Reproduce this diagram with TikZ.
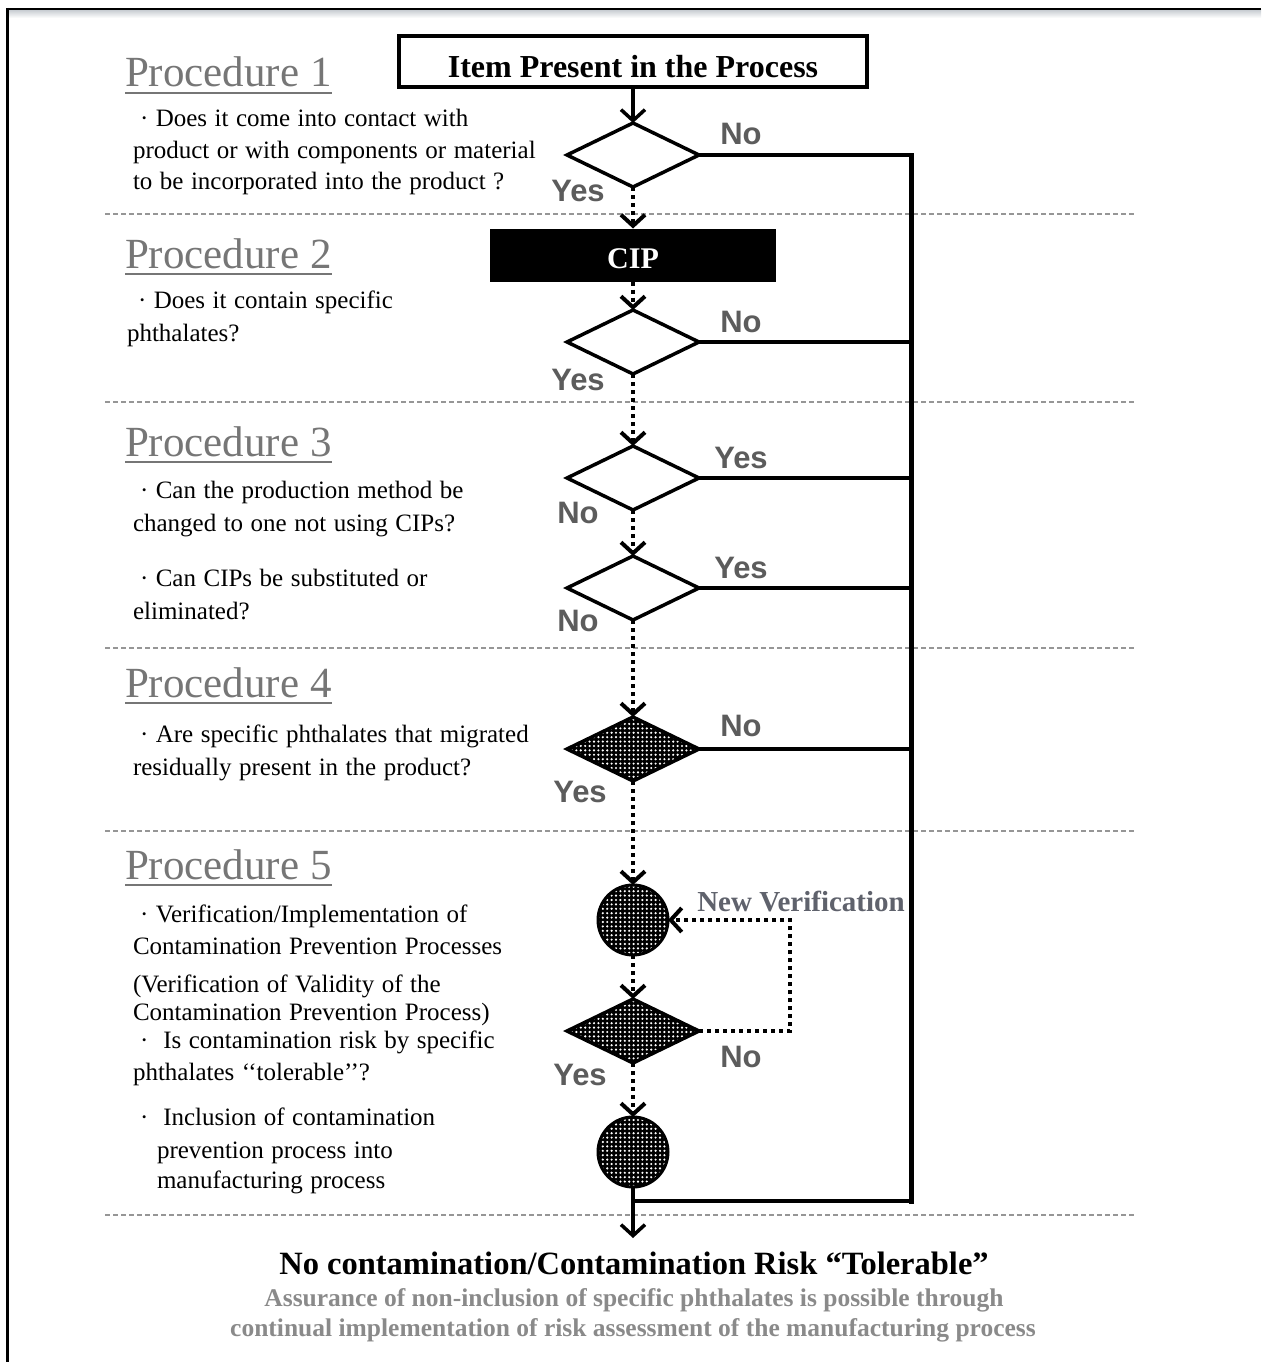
\documentclass[tikz,border=0pt]{standalone}
\usepackage{fontspec}
\setmainfont{Liberation Serif}
\newfontfamily\lsans{Liberation Sans}
\newfontfamily\bodyfont[WordSpace=1.2]{Liberation Serif}
\usetikzlibrary{shapes.geometric,arrows.meta,patterns.meta}
\definecolor{headgray}{RGB}{118,118,118}
\definecolor{yngray}{RGB}{92,92,92}
\definecolor{sepgray}{RGB}{150,150,150}
\definecolor{notegray}{RGB}{138,138,138}
\definecolor{nvgray}{RGB}{95,98,108}
\definecolor{bargray}{RGB}{200,205,210}
\begin{document}
\begin{tikzpicture}[x=1pt,y=-1pt,
  every node/.style={inner sep=0pt, outer sep=0pt},
  >={Straight Barb[length=11pt,width=24pt]},
  dec/.style={diamond, draw, line width=3.5pt, minimum width=132pt, minimum height=64pt},
  decfill/.style={dec, preaction={fill=black}, pattern={Dots[radius=1.2pt,distance=4.4pt]}, pattern color=white},
  ptfill/.style={circle, draw, line width=3pt, minimum size=70pt, preaction={fill=black}, pattern={Dots[radius=1.2pt,distance=4.4pt]}, pattern color=white},
  solidcon/.style={line width=3.5pt},
  dotcon/.style={line width=4pt, dash pattern=on 4pt off 4pt},
  sep/.style={sepgray, line width=1.5pt, dash pattern=on 5pt off 3pt},
  body/.style={anchor=base west, font=\bodyfont\fontsize{25}{29}\selectfont},
  head/.style={anchor=base west, text=headgray, font=\fontsize{43}{48}\selectfont},
  uline/.style={headgray, line width=2.5pt},
  yn/.style={text=yngray, font=\lsans\bfseries\fontsize{31}{36}\selectfont},
  note/.style={anchor=base, text=notegray, font=\bfseries\fontsize{25.5}{30}\selectfont}
]
\useasboundingbox (0,0) rectangle (1261,1362);
% frame
\shade[top color=bargray, bottom color=white] (7,10) rectangle (1261,18);
\draw[line width=2pt] (7,9) -- (1261,9);
\draw[line width=3pt] (7,8) -- (7,1362);

% separators
\foreach \yy in {214,402,648,831,1215} \draw[sep] (105,\yy) -- (1135,\yy);

% headings
\node[head] (h1) at (125,87) {Procedure 1};
\node[head] (h2) at (125,268) {Procedure 2};
\node[head] (h3) at (125,456) {Procedure 3};
\node[head] (h4) at (125,697) {Procedure 4};
\node[head] (h5) at (125,879) {Procedure 5};
\foreach \h in {h1,h2,h3,h4,h5}
  \draw[uline] ([yshift=-6pt]\h.base west) -- ([yshift=-6pt]\h.base east);

% body texts
\node[body] (t1a) at (140,127) {· Does it come into contact with};
\node[body] (t1b) at (133,158) {product or with components or material};
\node[body] (t1c) at (133,189) {to be incorporated into the product ?};
\node[body] (t2a) at (138,308) {· Does it contain specific};
\node[body] (t2b) at (127,341) {phthalates?};
\node[body] (t3a) at (140,498) {· Can the production method be};
\node[body] (t3b) at (133,531) {changed to one not using CIPs?};
\node[body] (t3c) at (140,586) {· Can CIPs be substituted or};
\node[body] (t3d) at (133,619) {eliminated?};
\node[body] (t4a) at (140,742) {· Are specific phthalates that migrated};
\node[body] (t4b) at (133,775) {residually present in the product?};
\node[body] (t5a) at (140,922) {· Verification/Implementation of};
\node[body] (t5b) at (133,954) {Contamination Prevention Processes};
\node[body] (t5c) at (133,992) {(Verification of Validity of the};
\node[body] (t5d) at (133,1020) {Contamination Prevention Process)};
\node[body] (t5e) at (140,1048) {·\ \ Is contamination risk by specific};
\node[body] (t5f) at (133,1080) {phthalates ‘‘tolerable’’?};
\node[body] (t5g) at (140,1125) {·\ \ Inclusion of contamination};
\node[body] (t5h) at (157,1158) {prevention process into};
\node[body] (t5i) at (157,1188) {manufacturing process};

% flow nodes
\node[draw, line width=4pt, minimum width=468pt, minimum height=51pt,
      text height=31pt, text depth=0pt,
      font=\bfseries\fontsize{32}{36}\selectfont] (title) at (633,62) {Item Present in the Process};
\node[dec] (d1) at (633,155) {};
\node[fill=black, minimum width=286pt, minimum height=53pt, text=white,
      text height=27pt, text depth=0pt,
      font=\bfseries\fontsize{30}{34}\selectfont] (cip) at (633,255) {CIP};
\node[dec] (d2) at (633,342) {};
\node[dec] (d3) at (633,478) {};
\node[dec] (d4) at (633,588) {};
\node[decfill] (d5) at (633,749) {};
\node[ptfill] (c1) at (633,920) {};
\node[decfill] (d6) at (633,1031) {};
\node[ptfill] (c2) at (633,1152) {};

% coordinates
\coordinate (r1) at (911,155);
\coordinate (r2) at (911,342);
\coordinate (r3) at (911,478);
\coordinate (r4) at (911,588);
\coordinate (r5) at (911,749);
\coordinate (rb) at (911,1201);
\coordinate (bj) at (633,1201);
\coordinate (fin) at (633,1238);
\coordinate (lp1) at (790,1031);
\coordinate (lp2) at (790,920);

% connectors
\draw[solidcon,->] (title.south) -- (d1.north);
\draw[dotcon,->] (d1.south) -- (cip.north);
\draw[dotcon,->] (cip.south) -- (d2.north);
\draw[dotcon,->] (d2.south) -- (d3.north);
\draw[dotcon,->] (d3.south) -- (d4.north);
\draw[dotcon,->] (d4.south) -- (d5.north);
\draw[dotcon,->] (d5.south) -- (c1.north);
\draw[dotcon,->] (c1.south) -- (d6.north);
\draw[dotcon,->] (d6.south) -- (c2.north);
\draw[solidcon,->] (c2.south) -- (fin);
\draw[dotcon,->] (d6.east) -- (lp1) -- (lp2) -- (c1.east);
\draw[solidcon] (d1.east) -- (r1);
\draw[solidcon] (d2.east) -- (r2);
\draw[solidcon] (d3.east) -- (r3);
\draw[solidcon] (d4.east) -- (r4);
\draw[solidcon] (d5.east) -- (r5);
\draw[line width=5pt] ([yshift=2pt]r1) -- ([yshift=-2.5pt]rb);
\draw[line width=4pt] (rb) -- (bj);

% yes/no labels
\node[yn] (l1n) at (741,134) {No};
\node[yn] (l1y) at (578,191) {Yes};
\node[yn] (l2n) at (741,322) {No};
\node[yn] (l2y) at (578,380) {Yes};
\node[yn] (l3y) at (741,458) {Yes};
\node[yn] (l3n) at (578,513) {No};
\node[yn] (l4y) at (741,568) {Yes};
\node[yn] (l4n) at (578,621) {No};
\node[yn] (l5n) at (741,726) {No};
\node[yn] (l5y) at (580,792) {Yes};
\node[yn] (l6n) at (741,1057) {No};
\node[yn] (l6y) at (580,1075) {Yes};
\node[text=nvgray, font=\bfseries\fontsize{29}{32}\selectfont] (nv) at (801,901) {New Verification};

% bottom texts
\node[anchor=base, font=\bfseries\fontsize{32.5}{36}\selectfont] (res) at (634,1274)
  {No contamination/Contamination Risk “Tolerable”};
\node[note] (n1) at (634,1306) {Assurance of non-inclusion of specific phthalates is possible through};
\node[note] (n2) at (633,1336) {continual implementation of risk assessment of the manufacturing process};
\end{tikzpicture}
\end{document}
